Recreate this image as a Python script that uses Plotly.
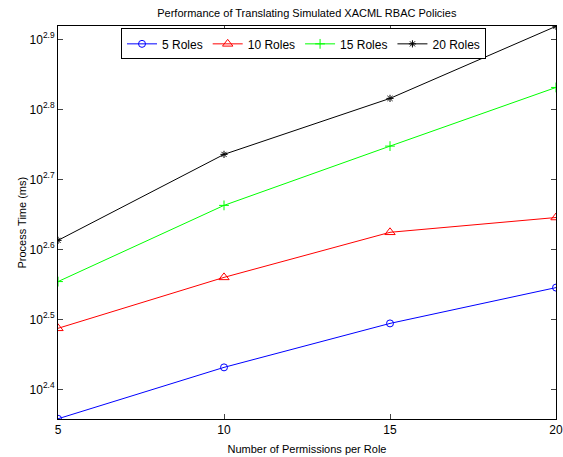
import plotly.graph_objects as go

permissions = [5, 10, 15, 20]
roles_5 = [228, 270, 312, 351]
roles_10 = [307, 363, 421, 442]
roles_15 = [358, 460, 559, 678]
roles_20 = [410, 544, 654, 829]

series = [
    ("5 Roles", roles_5, "#0000FF", "circle-open", 7),
    ("10 Roles", roles_10, "#FF0000", "triangle-up-open", 9),
    ("15 Roles", roles_15, "#00FF00", "cross-thin-open", 7),
    ("20 Roles", roles_20, "#000000", "asterisk-open", 6),
]

ytick_exp = [2.4, 2.5, 2.6, 2.7, 2.8, 2.9]
ytick_vals = [10 ** e for e in ytick_exp]
ytick_text = ["10<sup>%.1f</sup>" % e for e in ytick_exp]

fig = go.Figure()
for name, vals, color, sym, size in series:
    fig.add_trace(go.Scatter(
        x=permissions, y=vals, name=name, mode="lines+markers",
        line=dict(color=color, width=1),
        marker=dict(symbol=sym, size=size, color=color, line=dict(color=color, width=1)),
    ))

font = "Liberation Sans, Arial, sans-serif"
fig.update_layout(
    width=563, height=457,
    margin=dict(l=58, r=7, t=26, b=38, autoexpand=False),
    paper_bgcolor="white", plot_bgcolor="white",
    font=dict(family=font, size=11, color="#000"),
    title=dict(text="Performance of Translating Simulated XACML RBAC Policies",
               x=0.545, xanchor="center", y=0.972, yanchor="middle",
               font=dict(size=11, family=font)),
    showlegend=True,
    legend=dict(orientation="h", x=0.493, xanchor="center", y=0.994, yanchor="top",
                bordercolor="#000", borderwidth=1, bgcolor="white",
                font=dict(size=12, family=font), itemwidth=30,
                tracegroupgap=0),
    xaxis=dict(range=[5, 20], tickvals=permissions, ticks="inside", ticklen=5,
               showline=True, linecolor="#000", linewidth=1, mirror="ticks",
               showgrid=False, zeroline=False, automargin=False,
               title=dict(text="Number of Permissions per Role", font=dict(size=11), standoff=8),
               tickfont=dict(size=12)),
    yaxis=dict(type="log", range=[2.3576, 2.919], tickvals=ytick_vals, ticktext=ytick_text,
               ticks="inside", ticklen=5, showline=True, linecolor="#000", linewidth=1,
               mirror="ticks", showgrid=False, zeroline=False, automargin=False,
               tickfont=dict(size=12)),
    annotations=[dict(text="Process Time (ms)", xref="paper", yref="paper",
                      x=-0.0723, y=0.5, xanchor="center", yanchor="middle",
                      textangle=-90, showarrow=False, font=dict(size=11, family=font))],
)

fig.write_html(
    "out.html",
    config={"displayModeBar": False},
    post_script="document.body.style.margin='0';document.body.style.overflow='hidden';",
)
